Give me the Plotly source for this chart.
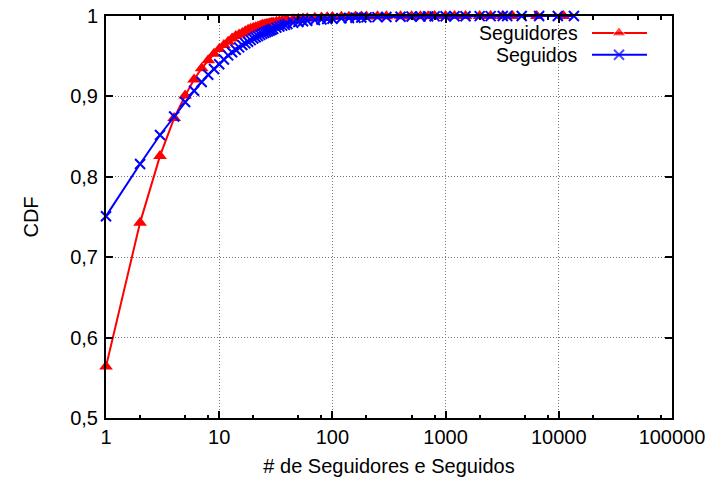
import plotly.graph_objects as go

# Cumulative distribution of follower / following counts
seguidores_x = [1, 2, 3, 4, 5, 6, 7, 8, 9, 10, 11, 12, 13, 14, 15, 16, 17, 18, 19, 20,
                21, 22, 23, 24, 25, 26, 27, 28, 29, 30, 32, 34, 36, 38, 40, 45, 50, 55,
                60, 70, 80, 90, 100, 120, 140, 160, 180, 200, 250, 300, 400, 500, 600,
                700, 800, 1000, 1200, 1500, 2000, 2500, 3200, 3900, 6400, 11000]
seguidores_y = [0.564, 0.743, 0.826, 0.873, 0.901, 0.921, 0.935, 0.945, 0.953, 0.959,
                0.964, 0.968, 0.972, 0.975, 0.977, 0.979, 0.981, 0.983, 0.984, 0.985,
                0.986, 0.987, 0.988, 0.989, 0.9895, 0.990, 0.9905, 0.991, 0.9915, 0.992,
                0.9928, 0.9935, 0.994, 0.9945, 0.995, 0.996, 0.9965, 0.997, 0.9973,
                0.9978, 0.9982, 0.9985, 0.9988, 0.999, 0.9992, 0.9993, 0.9994, 0.9995,
                0.9996, 0.9997, 0.9997, 0.9998, 0.9998, 0.9998, 0.9999, 0.9999, 0.9999,
                0.99995, 0.99996, 0.99997, 0.99998, 0.99999, 0.999995, 1.0]

seguidos_x = [1, 2, 3, 4, 5, 6, 7, 8, 9, 10, 11, 12, 13, 14, 15, 16, 17, 18, 19, 20,
              21, 22, 23, 24, 25, 26, 27, 28, 29, 30, 32, 34, 36, 38, 40, 45, 50, 55,
              60, 70, 80, 90, 100, 120, 140, 160, 180, 200, 250, 300, 400, 500, 600,
              700, 800, 1000, 1200, 1500, 2000, 2500, 3200, 3500, 4700, 6700, 9800, 13600]
seguidos_y = [0.751, 0.816, 0.852, 0.875, 0.893, 0.907, 0.918, 0.927, 0.934, 0.940,
              0.946, 0.951, 0.955, 0.958, 0.961, 0.964, 0.966, 0.968, 0.970, 0.972,
              0.9735, 0.975, 0.9765, 0.978, 0.979, 0.980, 0.981, 0.982, 0.983, 0.984,
              0.9855, 0.987, 0.988, 0.989, 0.990, 0.9915, 0.9925, 0.9935, 0.994,
              0.995, 0.9957, 0.9962, 0.9966, 0.9972, 0.9976, 0.9979, 0.9981, 0.9983,
              0.9986, 0.9988, 0.9991, 0.9993, 0.9994, 0.9995, 0.9995, 0.9996, 0.9997,
              0.9997, 0.9998, 0.9998, 0.9999, 0.9999, 0.99993, 0.99995, 0.99997, 1.0]

x_tickvals = [1, 10, 100, 1000, 10000, 100000]
x_ticktext = ["1", "10", "100", "1000", "10000", "100000"]
x_minor = [m * 10 ** d for d in range(5) for m in (2, 5, 8)]
y_tickvals = [0.5, 0.6, 0.7, 0.8, 0.9, 1.0]
y_ticktext = ["0,5", "0,6", "0,7", "0,8", "0,9", "1"]

series_names = ["Seguidores", "Seguidos"]
RED = "#ff0000"
BLUE = "#0000ff"
FONT = "Liberation Sans, Arial, sans-serif"
FS = 20

fig = go.Figure()

fig.add_trace(go.Scatter(
    x=seguidores_x, y=seguidores_y, mode="lines+markers", name=series_names[0],
    line=dict(color=RED, width=2),
    marker=dict(symbol="triangle-up", size=12, color=RED),
    cliponaxis=False, showlegend=False,
))
fig.add_trace(go.Scatter(
    x=seguidos_x, y=seguidos_y, mode="lines+markers", name=series_names[1],
    line=dict(color=BLUE, width=2),
    marker=dict(symbol="x-thin", size=10, color=BLUE, line=dict(color=BLUE, width=2)),
    cliponaxis=False, showlegend=False,
))

# Key drawn on an overlay axis spanning the plot area (0..1 in both directions)
key_rows = [0.958, 0.9035]
key_styles = [
    dict(symbol="triangle-up", size=[0, 12, 0], color=RED),
    dict(symbol="x-thin", size=[0, 10, 0], color=BLUE, line=dict(color=BLUE, width=2)),
]
key_colors = [RED, BLUE]
for name, yk, mk, col in zip(series_names, key_rows, key_styles, key_colors):
    fig.add_trace(go.Scatter(
        x=[0.8587, 0.9064, 0.9558], y=[yk, yk, yk], mode="lines+markers",
        line=dict(color=col, width=2), marker=mk,
        xaxis="x2", yaxis="y2", showlegend=False, hoverinfo="skip",
    ))
    fig.add_annotation(
        x=0.8357, y=yk, xref="x2", yref="y2", text=name, showarrow=False,
        xanchor="right", yanchor="middle", height=22, borderpad=0,
        font=dict(family=FONT, size=19.5, color="black"),
    )

axis_common = dict(
    showline=True, linecolor="black", linewidth=2, mirror="ticks",
    ticks="inside", ticklen=7, tickwidth=1.5, tickcolor="black",
    showgrid=True, gridcolor="#777777", gridwidth=1, griddash="1px,2px",
    zeroline=False, automargin=False,
    tickfont=dict(family=FONT, size=FS, color="black"),
)

fig.update_layout(
    width=711, height=482,
    margin=dict(l=106, r=39, t=16, b=64, autoexpand=False),
    paper_bgcolor="white", plot_bgcolor="white",
    font=dict(family=FONT, size=FS, color="black"),
    xaxis=dict(
        type="log", range=[0, 5], tickmode="array",
        tickvals=x_tickvals, ticktext=x_ticktext,
        minor=dict(tickmode="array", tickvals=x_minor, ticks="inside",
                   ticklen=3.5, tickwidth=1.5, tickcolor="black", showgrid=False),
        title=dict(text="# de Seguidores e Seguidos", standoff=12,
                   font=dict(family=FONT, size=FS)),
        **axis_common,
    ),
    yaxis=dict(
        range=[0.5, 1.0], tickmode="array",
        tickvals=y_tickvals, ticktext=y_ticktext, ticklabelstandoff=2,
        title=dict(text="CDF", standoff=26, font=dict(family=FONT, size=FS)),
        **axis_common,
    ),
    xaxis2=dict(range=[0, 1], overlaying="x", visible=False, fixedrange=True),
    yaxis2=dict(range=[0, 1], overlaying="y", visible=False, fixedrange=True),
)

fig.write_html("out.html")
